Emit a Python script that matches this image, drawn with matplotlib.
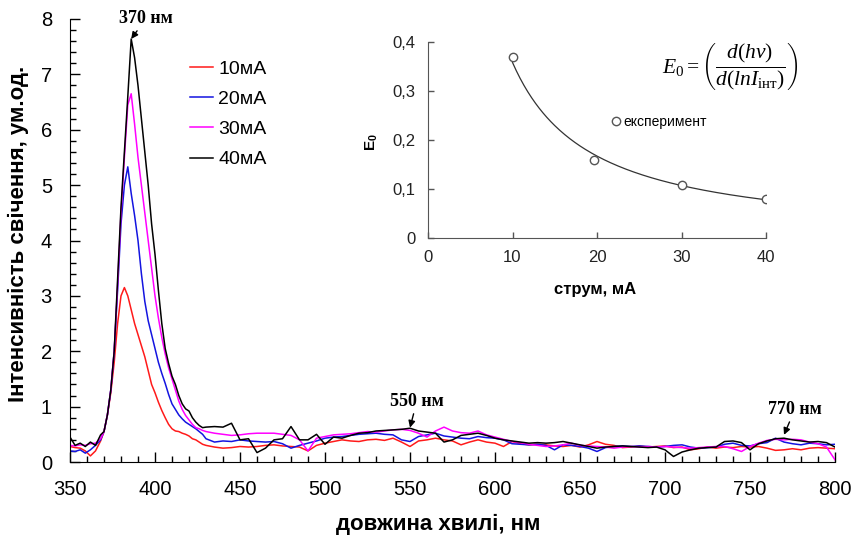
import numpy as np
import matplotlib
matplotlib.use("Agg")
import matplotlib.pyplot as plt
from matplotlib.ticker import MultipleLocator, FuncFormatter

plt.rcParams['font.family'] = ['Liberation Sans', 'DejaVu Sans']
plt.rcParams['mathtext.fontset'] = 'custom'
plt.rcParams['mathtext.rm'] = 'Liberation Serif'
plt.rcParams['mathtext.it'] = 'Liberation Serif:italic'
plt.rcParams['mathtext.bf'] = 'Liberation Sans:bold'

# wavelength grid (nm)
wl = np.concatenate([np.arange(350, 369, 3), np.arange(370, 431, 2), np.arange(435, 801, 5)])

red = [0.28, 0.26, 0.25, 0.20, 0.11, 0.20, 0.38,
       0.55, 0.85, 1.25, 1.8, 2.5, 3.0, 3.15, 3.0, 2.75, 2.5, 2.3, 2.1, 1.9, 1.65, 1.4, 1.25,
       1.08, 0.93, 0.8, 0.68, 0.6, 0.56, 0.55, 0.52, 0.5, 0.47, 0.42, 0.4, 0.36, 0.32, 0.3,
       0.27, 0.25, 0.26, 0.28, 0.27, 0.28, 0.30, 0.31, 0.29, 0.28, 0.27, 0.20, 0.30, 0.34,
       0.37, 0.40, 0.38, 0.37, 0.40, 0.41, 0.39, 0.43, 0.36, 0.28, 0.38, 0.40, 0.43, 0.40,
       0.38, 0.31, 0.36, 0.40, 0.36, 0.34, 0.28, 0.37, 0.33, 0.31, 0.32, 0.31, 0.29, 0.28,
       0.30, 0.27, 0.31, 0.37, 0.32, 0.30, 0.26, 0.27, 0.29, 0.27, 0.28, 0.29, 0.26, 0.27,
       0.22, 0.24, 0.27, 0.25, 0.27, 0.26, 0.28, 0.27, 0.28, 0.25, 0.21, 0.22, 0.24, 0.22,
       0.25, 0.26, 0.25, 0.24]
blue = [0.20, 0.19, 0.22, 0.16, 0.22, 0.30, 0.40,
        0.55, 0.85, 1.3, 2.0, 3.1, 4.3, 5.0, 5.33, 4.85, 4.45, 4.0, 3.4, 2.9, 2.55, 2.3, 2.05,
        1.8, 1.6, 1.42, 1.22, 1.05, 0.95, 0.85, 0.78, 0.72, 0.68, 0.64, 0.6, 0.55, 0.5, 0.42,
        0.36, 0.38, 0.37, 0.40, 0.38, 0.37, 0.36, 0.37, 0.33, 0.25, 0.30, 0.34, 0.38, 0.43,
        0.45, 0.46, 0.48, 0.50, 0.51, 0.52, 0.50, 0.49, 0.40, 0.37, 0.46, 0.49, 0.52, 0.47,
        0.45, 0.43, 0.42, 0.46, 0.44, 0.43, 0.40, 0.33, 0.32, 0.31, 0.32, 0.30, 0.22, 0.31,
        0.30, 0.28, 0.25, 0.19, 0.26, 0.28, 0.29, 0.28, 0.29, 0.28, 0.27, 0.28, 0.30, 0.31,
        0.27, 0.25, 0.26, 0.27, 0.32, 0.34, 0.30, 0.29, 0.33, 0.35, 0.43, 0.36, 0.33, 0.31,
        0.34, 0.33, 0.31, 0.32]
magenta = [0.30, 0.29, 0.31, 0.30, 0.33, 0.34, 0.42,
           0.55, 0.85, 1.3, 2.0, 3.2, 4.5, 5.5, 6.45, 6.65, 6.1, 5.5, 5.0, 4.5, 4.0, 3.5, 3.0,
           2.6, 2.25, 1.95, 1.7, 1.5, 1.3, 1.1, 0.95, 0.84, 0.76, 0.68, 0.62, 0.6, 0.57, 0.55,
           0.52, 0.50, 0.48, 0.49, 0.51, 0.52, 0.52, 0.52, 0.50, 0.48, 0.40, 0.20, 0.43, 0.46,
           0.49, 0.50, 0.51, 0.53, 0.55, 0.54, 0.56, 0.58, 0.59, 0.57, 0.52, 0.45, 0.56, 0.63,
           0.56, 0.53, 0.52, 0.56, 0.49, 0.45, 0.41, 0.37, 0.35, 0.32, 0.30, 0.28, 0.29, 0.31,
           0.34, 0.30, 0.29, 0.28, 0.27, 0.25, 0.27, 0.28, 0.27, 0.28, 0.27, 0.28, 0.27, 0.26,
           0.25, 0.26, 0.27, 0.28, 0.28, 0.24, 0.19, 0.28, 0.34, 0.39, 0.41, 0.40, 0.41, 0.40,
           0.36, 0.33, 0.27, 0.04]
black = [0.45, 0.30, 0.34, 0.28, 0.36, 0.30, 0.49,
         0.55, 0.85, 1.3, 2.0, 3.3, 4.6, 5.6, 6.6, 7.64, 7.3, 6.8, 6.2, 5.6, 5.0, 4.3, 3.75,
         3.1, 2.5, 2.05, 1.78, 1.55, 1.4, 1.2, 1.05, 0.96, 0.92, 0.8, 0.72, 0.66, 0.62, 0.63,
         0.64, 0.63, 0.70, 0.40, 0.42, 0.17, 0.25, 0.40, 0.42, 0.64, 0.40, 0.40, 0.50, 0.32,
         0.45, 0.43, 0.48, 0.52, 0.53, 0.56, 0.57, 0.58, 0.59, 0.61, 0.56, 0.54, 0.52, 0.36,
         0.40, 0.48, 0.50, 0.52, 0.48, 0.43, 0.40, 0.38, 0.36, 0.34, 0.35, 0.34, 0.35, 0.37,
         0.34, 0.31, 0.28, 0.25, 0.27, 0.28, 0.29, 0.28, 0.27, 0.26, 0.27, 0.22, 0.10, 0.18,
         0.22, 0.25, 0.26, 0.27, 0.37, 0.38, 0.35, 0.22, 0.33, 0.38, 0.42, 0.43, 0.40, 0.38,
         0.36, 0.37, 0.35, 0.27]

series = [('10мА', red, '#ff1a1a'), ('20мА', blue, '#1414e0'),
          ('30мА', magenta, '#ff00ff'), ('40мА', black, 'black')]

# inset data
current = np.array([10, 19.6, 30, 40])
e0 = np.array([0.37, 0.16, 0.108, 0.08])

fig = plt.figure(figsize=(8.58, 5.38), dpi=100)
ax = fig.add_axes([70/858, 1 - 462/538, 765/858, 443/538])

for label, vals, col in series:
    ax.plot(wl, vals, color=col, lw=1.1, label=label)

ax.set_xlim(350, 800)
ax.set_ylim(0, 8)
ax.xaxis.set_major_locator(MultipleLocator(50))
ax.xaxis.set_minor_locator(MultipleLocator(10))
ax.yaxis.set_major_locator(MultipleLocator(1))
ax.yaxis.set_minor_locator(MultipleLocator(0.2))
ax.tick_params(which='both', direction='in', width=1, labelsize=14.5, pad=13)
ax.tick_params(which='major', length=7)
ax.tick_params(which='minor', length=4.5)
for s in ['top', 'right']:
    ax.spines[s].set_visible(False)

ax.set_xlabel('довжина хвилі, нм', fontsize=16, fontweight='bold')
ax.set_ylabel('Інтенсивність свічення, ум.од.', fontsize=16, fontweight='bold')
ax.xaxis.set_label_coords(0.481, -0.117)
ax.yaxis.set_label_coords(-0.053, 0.515)

ax.legend(loc='upper left', bbox_to_anchor=(190/858, 1 - 60/538), bbox_transform=fig.transFigure,
          frameon=False, fontsize=14, handlelength=1.2, handletextpad=0.25,
          labelspacing=0.65, borderpad=0, borderaxespad=0)

# peak annotations
ann = dict(fontsize=13, fontweight='bold', family='Liberation Serif', ha='left', va='bottom',
           textcoords='offset pixels')
arrow = dict(arrowstyle='-|>', color='black', lw=1, mutation_scale=10, shrinkA=1, shrinkB=0)
ipk = int(np.argmax(black))
ax.annotate('370 нм', xy=(wl[ipk], black[ipk]), xytext=(-12, 12), arrowprops=arrow, **ann)
ax.annotate('550 нм', xy=(550, 0.62), xytext=(-20, 18), arrowprops=arrow, **ann)
ax.annotate('770 нм', xy=(770, 0.49), xytext=(-16, 17), arrowprops=arrow, **ann)

# inset
axi = fig.add_axes([428/858, 1 - 238/538, 338/858, 196/538])
k, b = np.polyfit(np.log(current), np.log(e0), 1)
xf = np.linspace(current.min(), current.max(), 200)
axi.plot(xf, np.exp(b) * xf ** k, color='#333333', lw=0.9)
axi.plot(current, e0, 'o', ms=6, mfc='white', mec='#555555', mew=1, label='експеримент')
axi.set_xlim(0, 40)
axi.set_ylim(0, 0.4)
axi.xaxis.set_major_locator(MultipleLocator(10))
axi.yaxis.set_major_locator(MultipleLocator(0.1))
axi.yaxis.set_major_formatter(FuncFormatter(lambda v, p: '0' if v == 0 else f'{v:.1f}'.replace('.', ',')))
axi.tick_params(direction='in', length=4, width=1, color='#555555', labelsize=12, pad=9,
                labelcolor='#222222')
for s in ['top', 'right']:
    axi.spines[s].set_visible(False)
for s in ['left', 'bottom']:
    axi.spines[s].set_color('#555555')
axi.patch.set_alpha(0)
axi.set_xlabel('струм, мА', fontsize=12, fontweight='bold')
axi.xaxis.set_label_coords(0.494, -0.224)
axi.set_ylabel(r'E$_\mathbf{0}$', fontsize=11, fontweight='bold')
axi.yaxis.set_label_coords(-0.142, 0.49)
axi.legend(loc='center left', bbox_to_anchor=(612/858, 1 - 122/538), bbox_transform=fig.transFigure,
           frameon=False, fontsize=10, handlelength=0.6, handletextpad=0.2, borderpad=0,
           borderaxespad=0)

fig.text(730/858, 1 - 66/538, r'$E_0 = \left(\dfrac{d(h\nu)}{d(lnI_{\mathrm{інт}})}\right)$',
         fontsize=15.5, ha='center', va='center')

fig.savefig('out.png', dpi=100)
